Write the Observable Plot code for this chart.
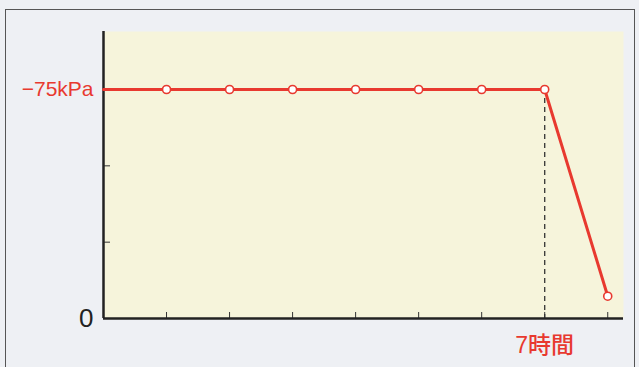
<!DOCTYPE html>
<html>
<head>
<meta charset="utf-8">
<script src="https://cdn.jsdelivr.net/npm/d3@7"></script>
<script src="https://cdn.jsdelivr.net/npm/@observablehq/plot@0.6"></script>
<style>
  html, body { margin: 0; padding: 0; background: #eef0f4; }
  #wrap { position: relative; width: 639px; height: 367px; overflow: hidden; }
  #frame { position: absolute; left: 5px; top: 9px; width: 630px; height: 370px; border: 1px solid #555; box-sizing: border-box; }
  #chart { position: absolute; left: 0; top: 0; }
</style>
</head>
<body>
<div id="wrap"><div id="frame"></div><div id="chart"></div></div>
<script>
// Data
const hours = [0, 1, 2, 3, 4, 5, 6, 7, 8];
const pressure = [-75, -75, -75, -75, -75, -75, -75, -75, -7.3];
const markerHours = [1, 2, 3, 4, 5, 6, 7, 8];
const xTicks = [1, 2, 3, 4, 5, 6, 7, 8];
const yMinorTicks = [-25, -50];
const yLabelTicks = [-75];
const xLabel = [{h: 7, text: "7時間"}];
const switchHour = 7;

const rows = hours.map((h, i) => ({h, p: pressure[i]}));
const markers = rows.filter(d => markerHours.includes(d.h));
const red = "#e8392f";
const font = "'Liberation Sans', 'Noto Sans CJK JP', sans-serif";

const chart = Plot.plot({
  width: 639,
  height: 367,
  marginLeft: 103,
  marginRight: 16,
  marginTop: 31,
  marginBottom: 49,
  style: {background: "transparent", fontFamily: font},
  x: {domain: [0, 8.25], axis: null},
  y: {domain: [0, -94], axis: null},
  marks: [
    Plot.frame({fill: "#f6f4db", stroke: null}),
    // minor ticks inside y axis
    Plot.axisY({ticks: yMinorTicks, tickSize: -7, text: null, label: null, stroke: "#333", strokeWidth: 1}),
    // x ticks pointing upward
    Plot.axisX({ticks: xTicks, tickSize: -6, text: null, label: null, stroke: "#333", strokeWidth: 1}),
    // y labels
    Plot.axisY({ticks: yLabelTicks, tickSize: 0, tickPadding: 10, label: null, tickFormat: d => "−" + Math.abs(d) + "kPa", fill: red, fontSize: 21}),
    Plot.axisY({ticks: [0], tickSize: 0, tickPadding: 10, label: null, tickFormat: d => "0", fill: "#222", fontSize: 26}),
    // x label
    Plot.text(xLabel, {x: "h", frameAnchor: "bottom", text: "text", fill: red, fontSize: 23, fontWeight: 500, dy: 34}),
    // dashed guide
    Plot.ruleX([switchHour], {y1: pressure[hours.indexOf(switchHour)], y2: 0, stroke: "#333", strokeWidth: 1.3, strokeDasharray: "5,4"}),
    // axes lines
    Plot.ruleX([0], {stroke: "#222", strokeWidth: 2.5}),
    Plot.ruleY([0], {stroke: "#222", strokeWidth: 2.5}),
    // data
    Plot.line(rows, {x: "h", y: "p", stroke: red, strokeWidth: 3}),
    Plot.dot(markers, {x: "h", y: "p", r: 4, fill: "white", stroke: red, strokeWidth: 1.6})
  ]
});
document.getElementById("chart").appendChild(chart);
</script>
</body>
</html>
